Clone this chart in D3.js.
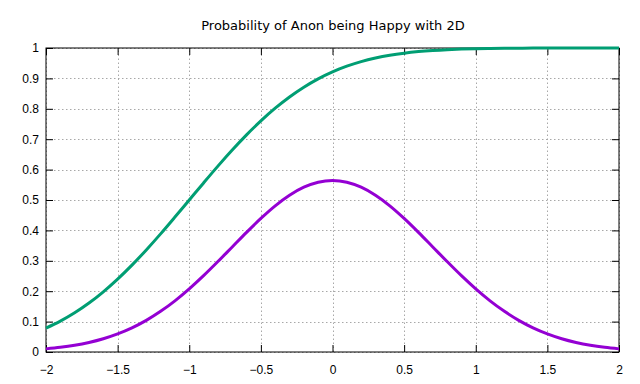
<!DOCTYPE html>
<html>
<head>
<meta charset="utf-8">
<script src="https://cdn.jsdelivr.net/npm/d3@7"></script>
<style>
  body { margin: 0; background: #fff; }
  svg { display: block; font-family: "DejaVu Sans", sans-serif; }
</style>
</head>
<body>
<div id="chart"></div>
<script>
// values, step 0.1 from -2 to 2
const xValues = d3.range(41).map(i => -2 + i * 0.1);
const happyCurve = [
  0.0787, 0.1016, 0.1290, 0.1611, 0.1981, 0.2398, 0.2858, 0.3357, 0.3886, 0.4438,
  0.5000, 0.5562, 0.6114, 0.6643, 0.7142, 0.7602, 0.8019, 0.8389, 0.8711, 0.8985,
  0.9214, 0.9401, 0.9552, 0.9670, 0.9762, 0.9831, 0.9882, 0.9919, 0.9946, 0.9964,
  0.9977, 0.9985, 0.9991, 0.9994, 0.9997, 0.9998, 0.9999, 1.0000, 1.0000, 1.0000, 1.0000
];
const bellCurve = [
  0.0103, 0.0153, 0.0221, 0.0314, 0.0436, 0.0595, 0.0795, 0.1041, 0.1337, 0.1682,
  0.2076, 0.2510, 0.2975, 0.3456, 0.3936, 0.4394, 0.4808, 0.5156, 0.5421, 0.5586,
  0.5642,
  0.5586, 0.5421, 0.5156, 0.4808, 0.4394, 0.3936, 0.3456, 0.2975, 0.2510, 0.2076,
  0.1682, 0.1337, 0.1041, 0.0795, 0.0595, 0.0436, 0.0314, 0.0221, 0.0153, 0.0103
];
const xTicks = [-2, -1.5, -1, -0.5, 0, 0.5, 1, 1.5, 2];
const yTicks = [0, 0.1, 0.2, 0.3, 0.4, 0.5, 0.6, 0.7, 0.8, 0.9, 1];
const title = 'Probability of Anon being Happy with 2D';

const width = 640, height = 384;
const margin = {top: 48, right: 21, bottom: 32, left: 46};

const svg = d3.select('#chart')
    .append('svg')
    .attr('width', width)
    .attr('height', height);

const x = d3.scaleLinear().domain([-2, 2]).range([margin.left, width - margin.right]);
const y = d3.scaleLinear().domain([0, 1]).range([height - margin.bottom, margin.top]);

// dotted grid
const grid = svg.append('g')
    .attr('stroke', '#a8a8a8')
    .attr('stroke-width', 1)
    .attr('stroke-dasharray', '1.5,2.5');
grid.selectAll('line.gx')
    .data(xTicks)
    .enter()
    .append('line')
    .attr('x1', d => Math.round(x(d)) + 0.5)
    .attr('x2', d => Math.round(x(d)) + 0.5)
    .attr('y1', y(0))
    .attr('y2', y(1));
grid.selectAll('line.gy')
    .data(yTicks)
    .enter()
    .append('line')
    .attr('y1', d => Math.round(y(d)) + 0.5)
    .attr('y2', d => Math.round(y(d)) + 0.5)
    .attr('x1', x(-2))
    .attr('x2', x(2));

// axes, ticks pointing inward, mirrored on top and right
function styleAxis(g) {
    g.selectAll('.domain').remove();
    g.selectAll('line').attr('stroke', '#000');
    g.selectAll('text').attr('fill', '#000').style('font-size', '12px');
}
svg.append('g')
    .attr('transform', `translate(0,${y(0)})`)
    .call(d3.axisBottom(x).tickValues(xTicks).tickSize(-7).tickPadding(13).tickFormat(d3.format('')))
    .call(styleAxis);
svg.append('g')
    .attr('transform', `translate(0,${y(1)})`)
    .call(d3.axisTop(x).tickValues(xTicks).tickSize(-7).tickFormat(''))
    .call(styleAxis);
svg.append('g')
    .attr('transform', `translate(${x(-2)},0)`)
    .call(d3.axisLeft(y).tickValues(yTicks).tickSize(-7).tickPadding(7).tickFormat(d3.format('')))
    .call(styleAxis);
svg.append('g')
    .attr('transform', `translate(${x(2)},0)`)
    .call(d3.axisRight(y).tickValues(yTicks).tickSize(-7).tickFormat(''))
    .call(styleAxis);

// border
svg.append('rect')
    .attr('x', x(-2))
    .attr('y', y(1))
    .attr('width', x(2) - x(-2))
    .attr('height', y(0) - y(1))
    .attr('fill', 'none')
    .attr('stroke', '#000')
    .attr('stroke-width', 1);

// curves
const line = d3.line()
    .x((d, i) => x(xValues[i]))
    .y(d => y(d))
    .curve(d3.curveMonotoneX);

svg.append('path')
    .datum(bellCurve)
    .attr('d', line)
    .attr('fill', 'none')
    .attr('stroke', '#9400d3')
    .attr('stroke-width', 3);

svg.append('path')
    .datum(happyCurve)
    .attr('d', line)
    .attr('fill', 'none')
    .attr('stroke', '#009e73')
    .attr('stroke-width', 3);

// title
svg.append('text')
    .attr('x', 333)
    .attr('y', 30)
    .attr('text-anchor', 'middle')
    .style('font-size', '13px')
    .attr('fill', '#000')
    .text(title);
</script>
</body>
</html>
